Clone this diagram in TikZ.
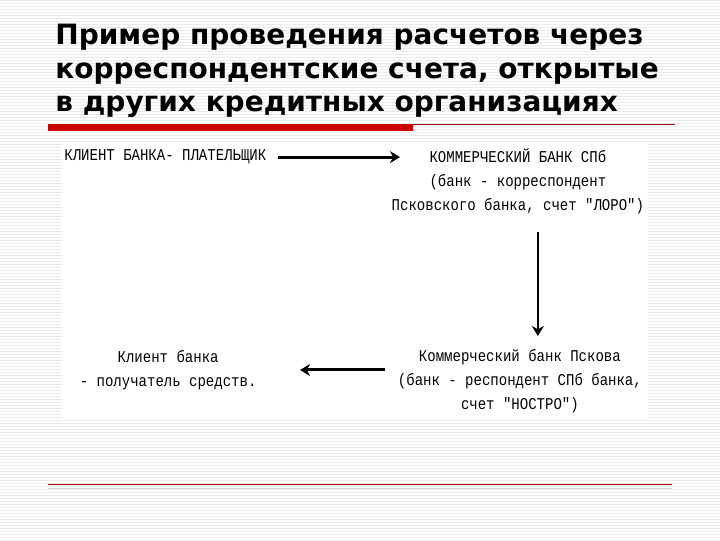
\documentclass[tikz,border=0pt]{standalone}
\usepackage{fontspec}
\setmainfont{DejaVu Sans}
\newfontfamily\monof[FakeStretch=0.85]{Liberation Mono}
\usetikzlibrary{arrows.meta}
\begin{document}
\begin{tikzpicture}[x=1pt,y=-1pt,
  ttl/.style={anchor=base west,font=\fontsize{28}{32}\selectfont\bfseries,inner sep=0},
  lbl/.style={font=\monof\fontsize{16.5}{24}\selectfont,align=center,inner sep=0},
  arr/.style={line width=3pt,-{Stealth[length=10pt,width=12pt]}}]
\fill[white] (0,0) rectangle (720,540);
\foreach \y in {0,3,...,540} \draw[black!8,line width=0.5pt] (0,\y) -- (720,\y);
\fill[white] (62,142) rectangle (648,418);
\node[ttl] (t1) at (55,44) {Пример проведения расчетов через};
\node[ttl] (t2) at (55,78) {корреспондентские счета, открытые};
\node[ttl] (t3) at (55,111) {в других кредитных организациях};
\fill[red!80!black] (48,124) rectangle (413,131);
\draw[red!60!black,line width=0.8pt] (413,124) -- (675,124);
\draw[red!70!black,line width=1pt] (48,485) -- (672,485);
\draw[green!10!gray!30,line width=0.8pt] (48,488) -- (672,488);
\node[lbl,anchor=west] (a) at (64,157) {КЛИЕНТ БАНКА- ПЛАТЕЛЬЩИК};
\node[lbl] (b) at (518,181) {КОММЕРЧЕСКИЙ БАНК СПб\\(банк - корреспондент\\Псковского банка, счет "ЛОРО")};
\node[lbl] (c) at (520,381) {Коммерческий банк Пскова\\(банк - респондент СПб банка,\\счет "НОСТРО")};
\node[lbl] (d) at (168,370) {Клиент банка\\- получатель средств.};
\draw[arr] (278,157) coordinate (a1) -- (400,157) coordinate (b1);
\draw[arr,line width=1.6pt] (538,232) coordinate (b2) -- (538,336) coordinate (c1);
\draw[arr] (385,370) coordinate (c2) -- (300,370) coordinate (d1);
\end{tikzpicture}
\end{document}
